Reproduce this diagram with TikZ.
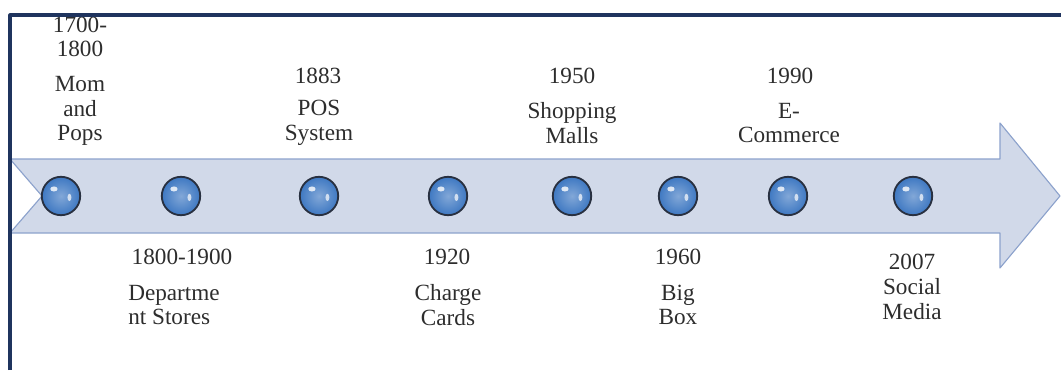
\documentclass[tikz,border=0pt]{standalone}
\usepackage{fontspec}
\setmainfont{Liberation Serif}
\newfontfamily\timesfont{Liberation Serif}

\begin{document}
\begin{tikzpicture}[x=0.025cm,y=0.025cm,line cap=round,line join=round]

\definecolor{frameNavy}{RGB}{31,52,94}
\definecolor{band}{RGB}{209,217,233}
\definecolor{bandEdge}{RGB}{140,162,204}
\definecolor{dotBlue}{RGB}{62,120,194}
\definecolor{dotRim}{RGB}{40,48,64}
\definecolor{ink}{RGB}{45,45,45}

\tikzset{
  dot/.style={circle, minimum size=0.96cm, inner sep=0pt, draw=dotRim, line width=1.3pt,
    inner color=dotBlue!65!white, outer color=dotBlue,
    path picture={
      \fill[white, opacity=.8] ([xshift=-5pt,yshift=5pt]path picture bounding box.center) ellipse (2.6pt and 1.8pt);
      \fill[white, opacity=.7] ([xshift=6pt,yshift=-1pt]path picture bounding box.center) ellipse (1.4pt and 2.6pt);
    }},
  caption/.style={inner sep=0pt, align=center, text=ink, font=\timesfont\fontsize{16.5}{17.5}\selectfont},
}

\useasboundingbox (0,0) rectangle (1061,370);

% arrow band
\filldraw[fill=band, draw=bandEdge, line width=.8pt]
  (10,211) -- (1000,211) -- (1000,247) -- (1060,174) -- (1000,102)
  -- (1000,137) -- (10,137) -- (42,174) -- cycle;

% dots
\node[dot] (d1) at (61,174) {};
\node[dot] (d2) at (181,174) {};
\node[dot] (d3) at (319,174) {};
\node[dot] (d4) at (448,174) {};
\node[dot] (d5) at (572,174) {};
\node[dot] (d6) at (678,174) {};
\node[dot] (d7) at (788,174) {};
\node[dot] (d8) at (913,174) {};

% captions above
\node[caption] (y1) at (80,333) {1700-\\1800};
\node[caption] (t1) at (80,259) {Mom\\and\\Pops};
\node[caption] (y3) at (318,294) {1883};
\node[caption] (t3) at (319,247) {POS\\System};
\node[caption] (y5) at (572,294) {1950};
\node[caption] (t5) at (572,247) {Shopping\\Malls};
\node[caption] (y7) at (790,294) {1990};
\node[caption] (t7) at (789,247) {E-\\Commerce};

% captions below
\node[caption] (y2) at (182,113) {1800-1900};
\node[caption, align=left, anchor=west] (t2) at (128,65) {Departme\\nt Stores};
\node[caption] (y4) at (447,113) {1920};
\node[caption] (t4) at (448,65) {Charge\\Cards};
\node[caption] (y6) at (678,113) {1960};
\node[caption] (t6) at (678,65) {Big\\Box};
\node[caption] (y8) at (912,83) {2007\\Social\\Media};

% frame
\draw[frameNavy, line width=2.2pt, line cap=butt] (10,0) -- (10,355) -- (1061,355);

\end{tikzpicture}
\end{document}
